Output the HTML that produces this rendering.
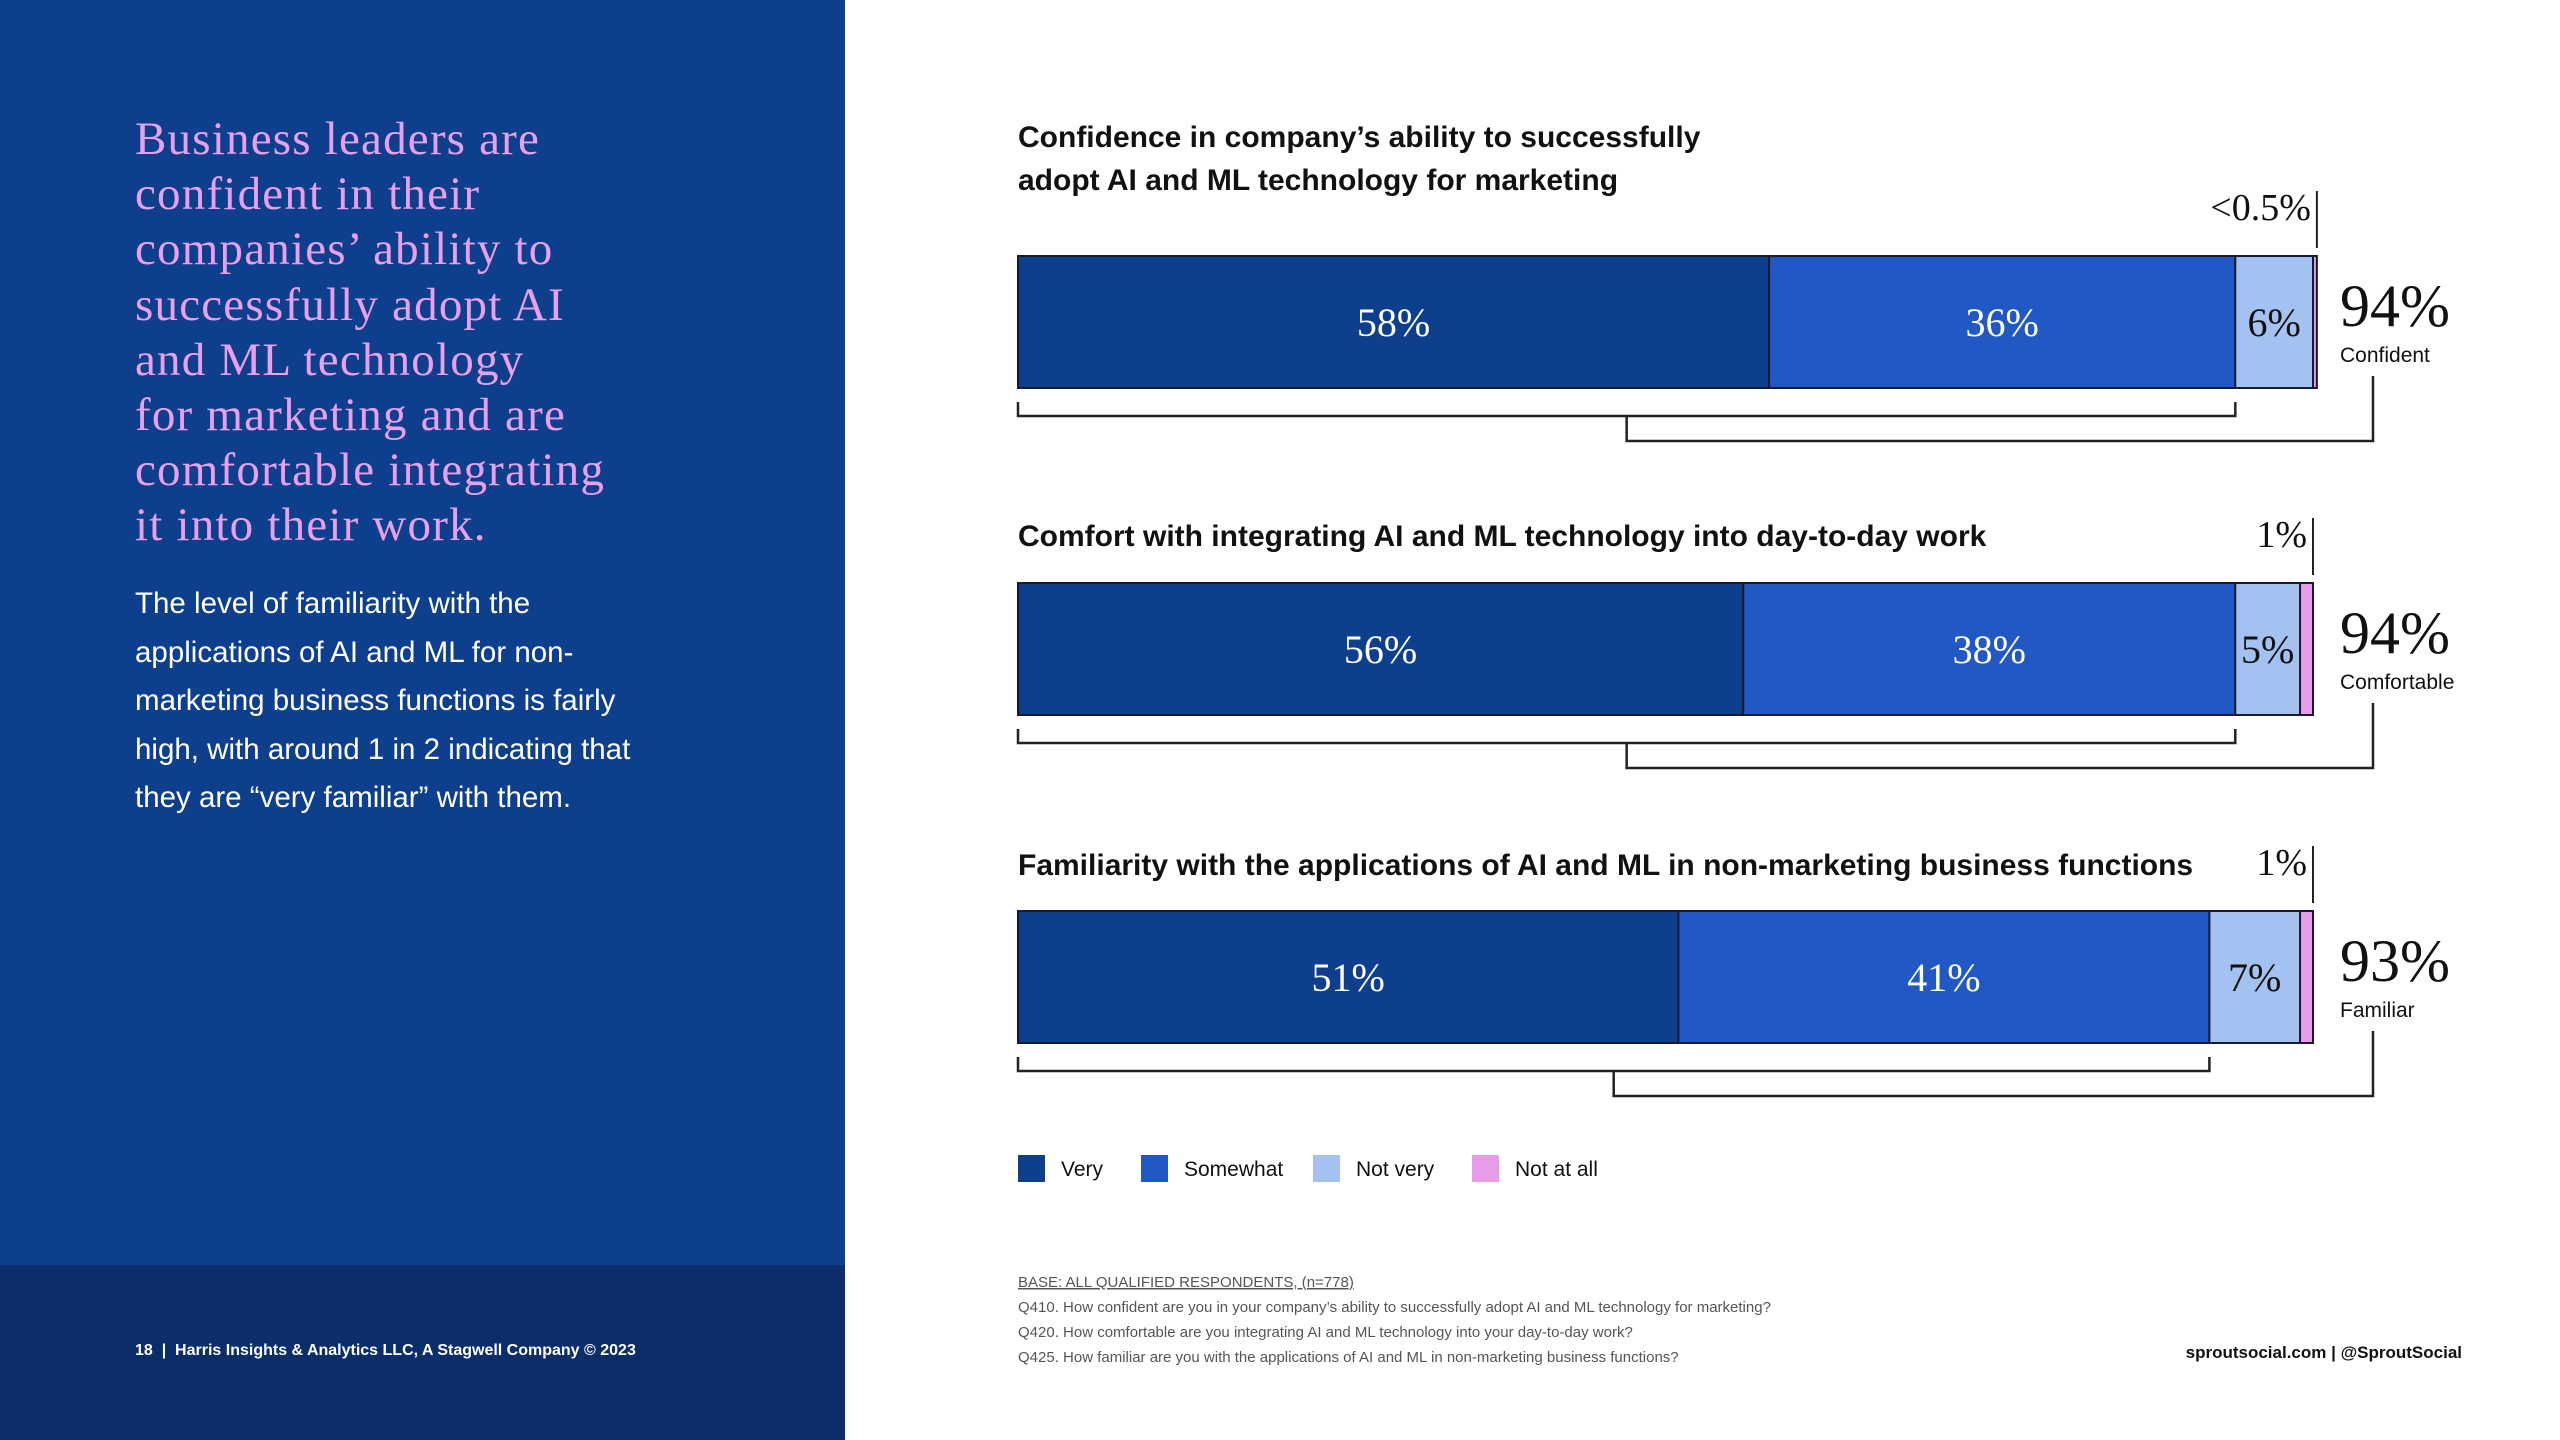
<!DOCTYPE html>
<html><head><meta charset="utf-8"><style>
html,body{margin:0;padding:0;width:2560px;height:1440px;overflow:hidden;background:#fff;font-family:"Liberation Sans",sans-serif}
#left{position:absolute;left:0;top:0;width:845px;height:1265px;background:#0e3f8c}
#foot{position:absolute;left:0;top:1265px;width:845px;height:175px;background:#0b2d6a}
#head{position:absolute;left:135px;top:112px;width:700px;font-family:"Liberation Serif",serif;font-size:47px;letter-spacing:1.2px;line-height:55.2px;color:#e8a0ec;margin:0;white-space:nowrap}
#body{position:absolute;left:135px;top:580px;width:545px;font-size:29.5px;line-height:48.5px;color:#fff;margin:0}
#pg{position:absolute;left:135px;top:1342px;font-size:16px;color:#fff;font-weight:bold}
svg{position:absolute;left:0;top:0}
</style></head><body>
<div id="left"></div>
<div id="foot"></div>
<p id="head">Business leaders are<br>confident in their<br>companies’ ability to<br>successfully adopt AI<br>and ML technology<br>for marketing and are<br>comfortable integrating<br>it into their work.</p>
<p id="body">The level of familiarity with the applications of AI and ML for non-marketing business functions is fairly high, with around 1 in 2 indicating that they are “very familiar” with them.</p>
<div id="pg">18&nbsp; | &nbsp;Harris Insights &amp; Analytics LLC, A Stagwell Company © 2023</div>
<svg id="chart" width="2560" height="1440"></svg>
<script>
const titles=[["Confidence in company’s ability to successfully","adopt AI and ML technology for marketing"],["Comfort with integrating AI and ML technology into day-to-day work"],["Familiarity with the applications of AI and ML in non-marketing business functions"]];
const veryVals=[58,56,51];
const somewhatVals=[36,38,41];
const notVeryVals=[6,5,7];
const notAtAllVals=[0.3,1,1];
const notAtAllLabels=["<0.5%","1%","1%"];
const totalVals=[94,94,93];
const totalLabels=["Confident","Comfortable","Familiar"];
const legendNames=["Very","Somewhat","Not very","Not at all"];
const colors=["#0e3f8c","#2158c4","#a3c2f2","#e89be8"];
const X0=1018,W=1295;
const x=v=>X0+v/100*W;
const barTops=[256,583,911],barH=132;
const titleY=[[147,190],[546],[875]];
const svg=document.getElementById('chart');
const NS="http://www.w3.org/2000/svg";
function mk(tag,attrs,txt){const e=document.createElementNS(NS,tag);for(const k in attrs)e.setAttribute(k,attrs[k]);if(txt!==undefined)e.textContent=txt;svg.appendChild(e);return e;}
const serif='"Liberation Serif",serif';
for(let i=0;i<3;i++){
  titles[i].forEach((t,j)=>{const e=mk('text',{x:X0,y:titleY[i][j],'font-size':30,'font-weight':'bold',fill:'#111'},t);
  
  });
  const vals=[veryVals[i],somewhatVals[i],notVeryVals[i],notAtAllVals[i]];
  let c=0;const y=barTops[i];
  vals.forEach((v,k)=>{
    const r=mk('rect',{x:x(c),y:y,width:x(c+v)-x(c),height:barH,fill:colors[k],stroke:'#1a1a2e','stroke-width':2});
    
    
    if(k<3){const lt=mk('text',{x:(x(c)+x(c+v))/2,y:y+barH/2+14,'text-anchor':'middle','font-family':serif,'font-size':40,fill:k<2?'#fff':'#111'},Math.round(v)+'%');
      
      }
    c+=v;});
  const xe=x(c);
  const tk=mk('line',{x1:xe,y1:y-65,x2:xe,y2:y-8,stroke:'#222','stroke-width':2});
  
  
  const sl=mk('text',{x:xe-6,y:y-36,'text-anchor':'end','font-family':serif,'font-size':38,fill:'#111'},notAtAllLabels[i]);
  
  
  const tl=mk('text',{x:2340,y:y+70,'font-family':serif,'font-size':60,fill:'#111'},totalVals[i]+'%');
  
  
  const tn=mk('text',{x:2340,y:y+106,'font-size':21,fill:'#111'},totalLabels[i]);
  
  
  const bx1=x(veryVals[i]+somewhatVals[i]);const by=y+barH+28;
  const b1=mk('path',{d:`M${X0} ${by-14}V${by}H${bx1}V${by-14}`,fill:'none',stroke:'#222','stroke-width':2.5});
  
  
  const mid=(X0+bx1)/2;
  const b2=mk('path',{d:`M${mid} ${by}V${by+25}H2373V${y+120}`,fill:'none',stroke:'#222','stroke-width':2.5});
  
  
}
const lx=[1018,1141,1313,1472];
legendNames.forEach((n,k)=>{
  const r=mk('rect',{x:lx[k],y:1155,width:27,height:27,fill:colors[k]});
  
  
  const t=mk('text',{x:lx[k]+43,y:1176,'font-size':21,fill:'#111'},n);
  
  
});
const notes=["BASE: ALL QUALIFIED RESPONDENTS, (n=778)","Q410. How confident are you in your company’s ability to successfully adopt AI and ML technology for marketing?","Q420. How comfortable are you integrating AI and ML technology into your day-to-day work?","Q425. How familiar are you with the applications of AI and ML in non-marketing business functions?"];
const ny=[1287,1312,1337,1362];
notes.forEach((n,k)=>{const t=mk('text',{x:1018,y:ny[k],'font-size':15,fill:'#555','text-decoration':k==0?'underline':'none'},n);
  
  });
const s=mk('text',{x:2462,y:1358,'text-anchor':'end','font-size':17,'font-weight':'bold',fill:'#111'},"sproutsocial.com  |  @SproutSocial");


s.setAttribute('xml:space','preserve');
</script>
</body></html>
